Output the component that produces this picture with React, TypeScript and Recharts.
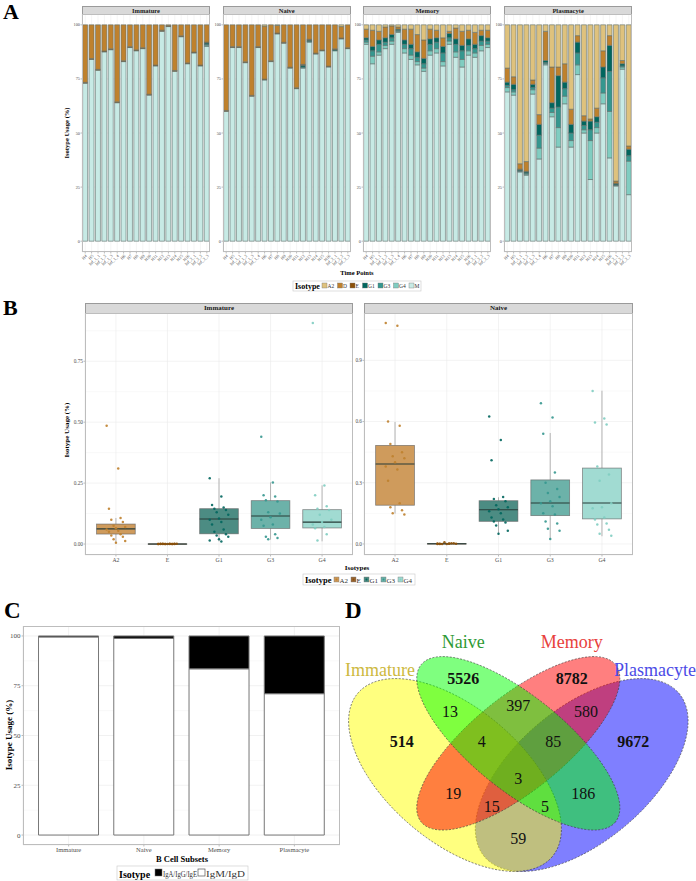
import React from "react"
import {
  BarChart,
  Bar,
  XAxis,
  YAxis,
  CartesianGrid,
  ScatterChart,
  Scatter,
} from "recharts"

const SERIF = "'Liberation Serif', 'DejaVu Serif', serif"

// ---------- Panel A: isotype usage per time point ----------
const timePoints = [
  "H4", "H5", "Inf_1_1", "Inf_1_2", "Inf_1_3", "Inf_1_4", "H6", "H7", "H8", "H9",
  "H10", "H11", "H12", "H13", "H14", "H15", "H16", "Inf_2_1", "Inf_2_2", "Inf_2_3",
]
const legendIsotypes = ["A2", "D", "E", "G1", "G3", "G4", "M"]
const stackOrder = ["M", "G4", "G3", "G1", "E", "D", "A2"] // bottom -> top

const zero20 = [0, 0, 0, 0, 0, 0, 0, 0, 0, 0, 0, 0, 0, 0, 0, 0, 0, 0, 0, 0]

const immM = [73, 84, 79, 87.5, 88.5, 64, 83, 89.5, 88, 89, 67.5, 81, 97, 99.2, 78.5, 94.5, 82, 87, 81, 90]
const immG4 = [0, 0, 0, 0, 0, 0, 0, 0, 0, 0, 0, 0, 0, 0, 0, 0, 0, 0, 0, 0.6]
const immG3 = [0, 0, 0, 0, 0, 0, 0, 0, 0, 0, 0, 0, 0, 0, 0, 0, 0, 0, 0, 0.4]
const immG1 = [0, 0, 0, 0, 0, 0, 0, 0, 0, 0, 0, 0, 0, 0, 0, 0, 0, 0, 0, 0.6]
const immE = [0.4, 0.4, 0.4, 0.4, 0.4, 0.4, 0.4, 0.4, 0.4, 0.4, 0.4, 0.4, 0.5, 0.4, 0.4, 0.4, 0.4, 0.4, 0.4, 0.4]
const immD = [26.6, 15.6, 20.6, 12.1, 11.1, 35.6, 16.6, 10.1, 11.6, 10.6, 32.1, 18.6, 2.5, 0.4, 21.1, 5.1, 17.6, 12.6, 18.6, 8.0]
const immA2 = zero20

const naiM = [60, 89.5, 89.5, 82.5, 67, 89.5, 74.5, 83, 95.8, 91.5, 80, 70.5, 80, 92, 86.5, 88, 80.5, 88, 93.5, 89]
const naiG4 = zero20
const naiG3 = [0, 0, 0, 0, 0, 0, 0, 0, 0, 0, 0, 0, 0.5, 0.4, 0, 0, 0, 0, 0, 0]
const naiG1 = [0, 0, 0, 0, 0, 0, 0, 0, 0, 0, 0, 0, 0.8, 0.5, 0, 0, 0, 0.5, 0, 0]
const naiE = [0.4, 0.4, 0.4, 0.4, 0.4, 0.4, 0.4, 0.4, 0.4, 0.4, 0.4, 0.4, 0.4, 0.4, 0.4, 0.4, 0.4, 0.4, 0.4, 0.4]
const naiD = [39.6, 10.1, 10.1, 17.1, 32.6, 10.1, 24.5, 16.6, 3.5, 8.1, 19.6, 29.1, 18.3, 6.7, 13.1, 11.6, 19.1, 11.1, 5.3, 10.6]
const naiA2 = [0, 0, 0, 0, 0, 0, 0.6, 0, 0.3, 0, 0, 0, 0, 0, 0, 0, 0, 0, 0.8, 0]

const memM = [91, 82, 86, 89, 91, 96.5, 87, 84, 81.5, 78.5, 86, 87, 81, 91, 85, 80.5, 86, 85, 88, 89.5]
const memG4 = [1, 3.5, 1.5, 1.5, 1.5, 0.5, 2, 2, 1.5, 1.5, 2, 2, 2, 1.5, 2.5, 3.5, 2, 2, 2.5, 1.5]
const memG3 = [1, 2.5, 3.5, 1.5, 1.5, 0.5, 2, 3, 2, 2, 3, 3, 4, 1.5, 3.5, 4, 2.5, 2, 2, 1.5]
const memG1 = [1, 2, 2, 2, 1.5, 0.5, 2, 2, 2.5, 2.5, 2.5, 2, 3, 2, 2.5, 2.5, 3, 2, 2.5, 1.5]
const memE = zero20
const memD = [4, 7.5, 4, 5, 4, 1, 5, 7, 8, 8.5, 4.5, 3.5, 4, 1, 5, 6.5, 4, 5.5, 2.5, 3.5]
const memA2 = [2, 2.5, 3, 1, 0.5, 1, 2, 2, 4.5, 7, 2, 2.5, 6, 3, 1.5, 3, 2.5, 3.5, 2.5, 2.5]

const plaM = [69, 67.5, 32, 30.5, 68, 38, 81.5, 57.5, 43.5, 63.5, 43.5, 77, 50, 28.5, 50, 63.5, 38.5, 25.5, 79.5, 21.5]
const plaG4 = [2, 1.5, 0.3, 0.5, 2, 5, 0.5, 2, 9, 3.5, 3, 4.5, 1.5, 18, 2.5, 5, 21.5, 0.3, 1, 15.5]
const plaG3 = [1, 1, 0.3, 0.5, 1, 6, 0.5, 2, 9.5, 3.5, 3.5, 5.5, 2, 5, 2.5, 7, 18.5, 0.2, 0.5, 2.5]
const plaG1 = [1.5, 2.5, 0.4, 0.5, 1.5, 5, 1, 2.5, 14.5, 3, 4, 5, 2, 4, 2.5, 5, 12, 0.5, 1, 3]
const plaE = [0, 0, 0.3, 0.3, 0, 0, 0, 0, 0, 0, 0, 0, 0, 0, 0, 0, 0, 0.3, 0, 0]
const plaD = [6.5, 3.5, 2.5, 4.5, 2, 4.5, 13.5, 16.5, 4, 8.5, 7, 3, 2.5, 1, 4, 7.5, 4.5, 1, 1.5, 1.5]
const plaA2 = [20, 24, 64.2, 63.2, 25.5, 41.5, 3, 19.5, 19.5, 18, 39, 5, 42, 43.5, 38.5, 12, 5, 72.2, 16.5, 56]

const isoColors: Record<string, string> = {
  A2: "#dfc27d",
  D: "#bf812d",
  E: "#8c510a",
  G1: "#01665e",
  G3: "#35978f",
  G4: "#80cdc1",
  M: "#c7eae5",
}

const facetsA = [
  { title: "Immature", s: { M: immM, G4: immG4, G3: immG3, G1: immG1, E: immE, D: immD, A2: immA2 } },
  { title: "Naive", s: { M: naiM, G4: naiG4, G3: naiG3, G1: naiG1, E: naiE, D: naiD, A2: naiA2 } },
  { title: "Memory", s: { M: memM, G4: memG4, G3: memG3, G1: memG1, E: memE, D: memD, A2: memA2 } },
  { title: "Plasmacyte", s: { M: plaM, G4: plaG4, G3: plaG3, G1: plaG1, E: plaE, D: plaD, A2: plaA2 } },
]

// ---------- Panel B: isotype usage box plots ----------
const boxIsotypes = ["A2", "E", "G1", "G3", "G4"]

const immLo = [0.004, 0, 0.011, 0.018, 0.011]
const immQ1 = [0.041, 0, 0.042, 0.064, 0.066]
const immMed = [0.062, 0, 0.103, 0.115, 0.09]
const immQ3 = [0.082, 0.001, 0.145, 0.178, 0.141]
const immHi = [0.107, 0.002, 0.27, 0.253, 0.241]
const immPtsA2 = [0.485, 0.31, 0.145, 0.107, 0.1, 0.09, 0.075, 0.07, 0.065, 0.06, 0.055, 0.05, 0.04, 0.035, 0.03, 0.02, 0.012, 0.005]
const immPtsE = [0, 0, 0.001, 0, 0.001, 0, 0, 0.001, 0, 0, 0.001, 0, 0, 0, 0.001, 0]
const immPtsG1 = [0.27, 0.195, 0.16, 0.15, 0.145, 0.14, 0.13, 0.12, 0.105, 0.1, 0.09, 0.08, 0.06, 0.05, 0.04, 0.035, 0.03, 0.02, 0.015, 0.01]
const immPtsG3 = [0.44, 0.253, 0.2, 0.195, 0.18, 0.175, 0.13, 0.125, 0.11, 0.1, 0.08, 0.075, 0.04, 0.03, 0.025, 0.02]
const immPtsG4 = [0.907, 0.24, 0.2, 0.155, 0.145, 0.14, 0.12, 0.1, 0.09, 0.08, 0.07, 0.065, 0.04, 0.015]

const naiLo = [0.149, 0, 0.046, 0.021, 0.038]
const naiQ1 = [0.19, 0, 0.111, 0.139, 0.123]
const naiMed = [0.392, 0.001, 0.168, 0.201, 0.201]
const naiQ3 = [0.483, 0.002, 0.212, 0.314, 0.372]
const naiHi = [0.598, 0.004, 0.229, 0.544, 0.751]
const naiPtsA2 = [1.083, 1.07, 0.6, 0.58, 0.49, 0.45, 0.43, 0.42, 0.4, 0.38, 0.365, 0.31, 0.2, 0.18, 0.165, 0.15, 0.145]
const naiPtsE = [0, 0.002, 0.001, 0.004, 0, 0.003, 0.008, 0.001, 0, 0.002, 0.001, 0]
const naiPtsG1 = [0.625, 0.51, 0.41, 0.23, 0.22, 0.21, 0.19, 0.18, 0.17, 0.16, 0.15, 0.13, 0.12, 0.11, 0.105, 0.09, 0.065, 0.05]
const naiPtsG3 = [0.69, 0.62, 0.54, 0.35, 0.3, 0.27, 0.25, 0.23, 0.21, 0.2, 0.185, 0.15, 0.145, 0.11, 0.1, 0.075, 0.065, 0.025]
const naiPtsG4 = [0.75, 0.615, 0.595, 0.585, 0.38, 0.34, 0.31, 0.2, 0.18, 0.175, 0.13, 0.12, 0.1, 0.095, 0.07, 0.05, 0.04]

const boxFill: Record<string, string> = { A2: "#cf9b5c", E: "#9a6633", G1: "#4c8c83", G3: "#6cb2a9", G4: "#a1dbd2" }
const pointFill: Record<string, string> = { A2: "#bf812d", E: "#8c510a", G1: "#01665e", G3: "#35978f", G4: "#80cdc1" }

// ---------- Panel C: switched vs unswitched ----------
const subsets = ["Immature", "Naive", "Memory", "Plasmacyte"]
const switchedPct = [0.5, 1.2, 16.5, 29]
const unswitchedPct = [99.5, 98.8, 83.5, 71]

// ---------- Panel D: clonotype overlap ----------
const vennSets = ["Immature", "Naive", "Memory", "Plasmacyte"]
const vennRegions = [
  "Naive", "Memory", "Imm&Naive", "Naive&Mem", "Mem&Plasma", "Immature", "Imm&Naive&Mem",
  "Naive&Mem&Plasma", "Plasmacyte", "All", "Imm&Mem", "Naive&Plasma", "Imm&Mem&Plasma",
  "Imm&Naive&Plasma", "Imm&Plasma",
]
const vennCounts = [5526, 8782, 13, 397, 580, 514, 4, 85, 9672, 3, 19, 186, 15, 5, 59]
const vennSingle = ["Naive", "Memory", "Immature", "Plasmacyte"]

// layout of the diagram (chart units = px inside the 356x291 panel)
const vennEllipseLayout: Record<string, { x: number; y: number; a: number; b: number; rot: number; color: string }> = {
  Plasmacyte: { x: 241.7, y: 185, a: 127, b: 67, rot: -40, color: "#0000ff" },
  Immature: { x: 115, y: 185, a: 127, b: 67, rot: 40, color: "#ffff00" },
  Memory: { x: 178.3, y: 153.3, a: 125, b: 47, rot: -39, color: "#ff0000" },
  Naive: { x: 178.3, y: 153.3, a: 125, b: 47, rot: 39, color: "#00ff00" },
}
const vennDrawOrder = ["Plasmacyte", "Immature", "Memory", "Naive"]
const vennSetLabelLayout: Record<string, { x: number; y: number; color: string }> = {
  Immature: { x: 40, y: 80, color: "#cdb940" },
  Naive: { x: 123.3, y: 51.7, color: "#2f9a35" },
  Memory: { x: 231.7, y: 51.7, color: "#e8413c" },
  Plasmacyte: { x: 315, y: 80, color: "#4b4be6" },
}
const vennCountLayout = [
  [123.3, 88.3], [231.7, 88.3], [110, 121.7], [178.3, 115], [246, 121.7], [61.7, 151.7], [141.7, 151.7],
  [213.3, 151.7], [293.3, 151.7], [178.3, 188.3], [113.3, 203.3], [243.3, 203.3], [151.7, 216.7],
  [205, 216.7], [178.3, 248.3],
]

// ---------- components ----------
const tickStyle = (size: number) => ({ fontSize: size, fill: "#4d4d4d", fontFamily: SERIF })

function Strip({ left, top, width, height, title, size }: any) {
  return (
    <div
      style={{
        position: "absolute",
        left,
        top,
        width,
        height,
        background: "#d9d9d9",
        border: "0.5px solid #9a9a9a",
        boxSizing: "border-box",
        fontFamily: SERIF,
        fontWeight: "bold",
        fontSize: size,
        lineHeight: `${height - 1}px`,
        textAlign: "center",
        color: "#1a1a1a",
      }}
    >
      {title}
    </div>
  )
}

function Frame({ left, top, width, height }: any) {
  return (
    <div
      style={{
        position: "absolute",
        left,
        top,
        width,
        height,
        border: "0.7px solid #bdbdbd",
        boxSizing: "border-box",
        pointerEvents: "none",
      }}
    />
  )
}

function UsageFacet({ title, s, plotLeft }: any) {
  const plotW = 128
  const plotH = 238
  const yW = 14
  const xH = 30
  const rows = timePoints.map((t, i) => {
    const r: Record<string, string | number> = { t }
    stackOrder.forEach((k) => (r[k] = s[k][i]))
    return r
  })
  return (
    <>
      <Strip left={plotLeft} top={6} width={plotW} height={8.5} title={title} size={6.5} />
      <div style={{ position: "absolute", left: plotLeft - yW, top: 14 }}>
        <BarChart
          width={plotW + yW}
          height={plotH + xH}
          data={rows}
          margin={{ top: 0, right: 0, bottom: 0, left: 0 }}
          barCategoryGap="10%"
        >
          <CartesianGrid stroke="#ebebeb" strokeWidth={0.5} />
          <XAxis
            dataKey="t"
            interval={0}
            height={xH}
            angle={-45}
            textAnchor="end"
            tick={tickStyle(4.3)}
            tickSize={1.5}
            tickMargin={0.5}
            tickLine={{ stroke: "#7f7f7f", strokeWidth: 0.5 }}
            axisLine={false}
          />
          <YAxis
            width={yW}
            domain={[-5, 105]}
            ticks={[0, 25, 50, 75, 100]}
            allowDataOverflow
            tick={tickStyle(4.3)}
            tickSize={1.5}
            tickMargin={0.5}
            tickLine={{ stroke: "#7f7f7f", strokeWidth: 0.5 }}
            axisLine={false}
          />
          {stackOrder.map((k) => (
            <Bar
              key={k}
              dataKey={k}
              stackId="s"
              fill={isoColors[k]}
              stroke="#61706d"
              strokeWidth={0.6}
              isAnimationActive={false}
            />
          ))}
        </BarChart>
      </div>
      <Frame left={plotLeft} top={14} width={plotW} height={plotH} />
    </>
  )
}

const jitter = (i: number) => (((i * 5) % 9) - 4) * 0.045

function BoxFacet({ title, plotLeft, plotW, stats, pts, domain, ticks, minor, digits }: any) {
  const plotTop = 313
  const plotH = 242
  const yW = 18
  const xH = 14
  const pxY = plotH / (domain[1] - domain[0])
  const pxX = plotW / 5.2
  const boxes = boxIsotypes.map((iso, i) => ({
    iso,
    x: i + 1,
    y: stats.med[i],
    lo: stats.lo[i],
    q1: stats.q1[i],
    q3: stats.q3[i],
    hi: stats.hi[i],
  }))
  const boxShape = (props: any) => {
    const { cx, cy, payload } = props
    const py = (v: number) => cy - (v - payload.y) * pxY
    const w = 0.75 * pxX
    const top = py(payload.q3)
    const bot = py(payload.q1)
    return (
      <g>
        <line x1={cx} x2={cx} y1={py(payload.hi)} y2={top} stroke="#a3a3a3" strokeWidth={0.8} />
        <line x1={cx} x2={cx} y1={bot} y2={py(payload.lo)} stroke="#a3a3a3" strokeWidth={0.8} />
        <rect
          x={cx - w / 2}
          y={top}
          width={w}
          height={Math.max(0.6, bot - top)}
          fill={boxFill[payload.iso]}
          stroke="#5d5d5d"
          strokeOpacity={0.7}
          strokeWidth={0.8}
        />
        <line x1={cx - w / 2} x2={cx + w / 2} y1={cy} y2={cy} stroke="#263b37" strokeWidth={1.1} />
      </g>
    )
  }
  return (
    <>
      <Strip left={plotLeft} top={303} width={plotW} height={10.5} title={title} size={7} />
      <div style={{ position: "absolute", left: plotLeft - yW, top: plotTop }}>
        <ScatterChart width={plotW + yW} height={plotH + xH} margin={{ top: 0, right: 0, bottom: 0, left: 0 }}>
          <CartesianGrid stroke="#f3f3f3" strokeWidth={0.5} vertical={false} horizontalValues={minor} />
          <CartesianGrid stroke="#ebebeb" strokeWidth={0.6} />
          <XAxis
            type="number"
            dataKey="x"
            domain={[0.4, 5.6]}
            ticks={[1, 2, 3, 4, 5]}
            allowDataOverflow
            tickFormatter={(v: number) => boxIsotypes[v - 1]}
            height={xH}
            tick={tickStyle(5.8)}
            tickSize={1.5}
            tickMargin={1}
            tickLine={{ stroke: "#7f7f7f", strokeWidth: 0.5 }}
            axisLine={false}
          />
          <YAxis
            type="number"
            dataKey="y"
            width={yW}
            domain={domain}
            ticks={ticks}
            allowDataOverflow
            tickFormatter={(v: number) => v.toFixed(digits)}
            tick={tickStyle(5.3)}
            tickSize={1.5}
            tickMargin={0.5}
            tickLine={{ stroke: "#7f7f7f", strokeWidth: 0.5 }}
            axisLine={false}
          />
          <Scatter data={boxes} shape={boxShape} isAnimationActive={false} />
          {boxIsotypes.map((iso, k) => (
            <Scatter
              key={iso}
              data={pts[iso].map((v: number, i: number) => ({ x: k + 1 + jitter(i), y: v }))}
              fill={pointFill[iso]}
              shape={(p: any) => <circle cx={p.cx} cy={p.cy} r={1.25} fill={pointFill[iso]} fillOpacity={0.9} />}
              isAnimationActive={false}
            />
          ))}
        </ScatterChart>
      </div>
      <Frame left={plotLeft} top={plotTop} width={plotW} height={plotH} />
    </>
  )
}

function SwitchPanel() {
  const rows = subsets.map((s, i) => ({ s, sw: switchedPct[i], un: unswitchedPct[i] }))
  const plotLeft = 23
  const plotTop = 626
  const plotW = 317
  const plotH = 219
  const yW = 20
  return (
    <>
      <div style={{ position: "absolute", left: plotLeft - yW, top: plotTop }}>
        <BarChart
          width={plotW + yW}
          height={plotH + 12}
          data={rows}
          margin={{ top: 0, right: 0, bottom: 0, left: 0 }}
          barCategoryGap="10%"
        >
          <CartesianGrid stroke="#f3f3f3" strokeWidth={0.5} vertical={false} horizontalValues={[12.5, 37.5, 62.5, 87.5]} />
          <CartesianGrid stroke="#ebebeb" strokeWidth={0.7} />
          <XAxis
            dataKey="s"
            interval={0}
            height={12}
            padding={{ left: 8, right: 8 }}
            tick={tickStyle(6.5)}
            tickSize={1.5}
            tickMargin={0.5}
            tickLine={{ stroke: "#7f7f7f", strokeWidth: 0.5 }}
            axisLine={false}
          />
          <YAxis
            width={yW}
            domain={[-5, 105]}
            ticks={[0, 25, 50, 75, 100]}
            allowDataOverflow
            tick={tickStyle(7)}
            tickSize={1.5}
            tickMargin={1}
            tickLine={{ stroke: "#7f7f7f", strokeWidth: 0.5 }}
            axisLine={false}
          />
          <Bar dataKey="un" stackId="c" fill="#ffffff" stroke="#777777" strokeWidth={1} isAnimationActive={false} />
          <Bar dataKey="sw" stackId="c" fill="#000000" stroke="#777777" strokeWidth={1} isAnimationActive={false} />
        </BarChart>
      </div>
      <Frame left={plotLeft} top={plotTop} width={plotW} height={plotH} />
    </>
  )
}

function VennPanel() {
  const ellipses = vennDrawOrder.map((k) => ({ name: k, ...vennEllipseLayout[k] }))
  const counts = vennCounts.map((c, i) => ({
    x: vennCountLayout[i][0],
    y: vennCountLayout[i][1],
    c,
    region: vennRegions[i],
    bold: vennSingle.includes(vennRegions[i]),
  }))
  const names = vennSets.map((n) => ({ n, ...vennSetLabelLayout[n] }))
  return (
    <div style={{ position: "absolute", left: 340, top: 590 }}>
      <ScatterChart width={356} height={291} margin={{ top: 0, right: 0, bottom: 0, left: 0 }}>
        <XAxis type="number" dataKey="x" domain={[0, 356]} hide allowDataOverflow />
        <YAxis type="number" dataKey="y" domain={[0, 291]} reversed hide allowDataOverflow />
        <Scatter
          data={ellipses}
          isAnimationActive={false}
          shape={(p: any) => (
            <ellipse
              cx={p.cx}
              cy={p.cy}
              rx={p.payload.a}
              ry={p.payload.b}
              transform={`rotate(${p.payload.rot} ${p.cx} ${p.cy})`}
              fill={p.payload.color}
              fillOpacity={0.5}
              stroke="#3a3a3a"
              strokeWidth={0.6}
              strokeDasharray="2 1.5"
            />
          )}
        />
        <Scatter
          data={counts}
          isAnimationActive={false}
          shape={(p: any) => (
            <text
              x={p.cx}
              y={p.cy}
              textAnchor="middle"
              dominantBaseline="central"
              fontFamily={SERIF}
              fontSize={16}
              fontWeight={p.payload.bold ? "bold" : "normal"}
              fill="#111"
            >
              {p.payload.c}
            </text>
          )}
        />
        <Scatter
          data={names}
          isAnimationActive={false}
          shape={(p: any) => (
            <text
              x={p.cx}
              y={p.cy}
              textAnchor="middle"
              dominantBaseline="central"
              fontFamily={SERIF}
              fontSize={18}
              fill={p.payload.color}
            >
              {p.payload.n}
            </text>
          )}
        />
      </ScatterChart>
    </div>
  )
}

function Overlay() {
  const legA: JSX.Element[] = []
  let x = 322
  legendIsotypes.forEach((k) => {
    legA.push(<rect key={`r${k}`} x={x} y={283} width={5} height={5} fill={isoColors[k]} stroke="#777" strokeWidth={0.4} />)
    legA.push(
      <text key={`t${k}`} x={x + 5.5} y={287.8} fontSize={5.5} fill="#333">
        {k}
      </text>
    )
    x += 6.5 + (k.length === 1 ? 6 : 9)
  })
  const legB: JSX.Element[] = []
  let xb = 334
  boxIsotypes.forEach((k) => {
    legB.push(<rect key={`r${k}`} x={xb} y={577} width={5} height={5} fill={boxFill[k]} stroke="#777" strokeWidth={0.4} />)
    legB.push(<circle key={`c${k}`} cx={xb + 2.5} cy={579.5} r={1} fill={pointFill[k]} />)
    legB.push(
      <text key={`t${k}`} x={xb + 5.5} y={582.5} fontSize={7} fill="#333">
        {k}
      </text>
    )
    xb += 6 + (k.length === 1 ? 7 : 11)
  })
  return (
    <svg
      width={696}
      height={881}
      style={{ position: "absolute", left: 0, top: 0, pointerEvents: "none" }}
      fontFamily={SERIF}
    >
      <text x={3} y={19} fontSize={22} fontWeight="bold">A</text>
      <text x={3} y={315} fontSize={22} fontWeight="bold">B</text>
      <text x={4} y={618} fontSize={23} fontWeight="bold">C</text>
      <text x={345} y={618} fontSize={23} fontWeight="bold">D</text>

      <text transform="translate(69,133) rotate(-90)" textAnchor="middle" fontSize={6.5} fontWeight="bold">
        Isotype Usage (%)
      </text>
      <text x={357} y={275} textAnchor="middle" fontSize={6.5} fontWeight="bold">Time Points</text>
      <rect x={293} y={281} width={128} height={10} fill="#fff" stroke="#c8c8c8" strokeWidth={0.6} />
      <text x={295} y={289.3} fontSize={8} fontWeight="bold">Isotype</text>
      {legA}

      <text transform="translate(69,430) rotate(-90)" textAnchor="middle" fontSize={7} fontWeight="bold">
        Isotype Usage (%)
      </text>
      <text x={357} y={570} textAnchor="middle" fontSize={7} fontWeight="bold">Isotypes</text>
      <rect x={303} y={574} width={112} height={11} fill="#fff" stroke="#c8c8c8" strokeWidth={0.6} />
      <text x={305} y={583.2} fontSize={8.5} fontWeight="bold">Isotype</text>
      {legB}

      <text transform="translate(12,735) rotate(-90)" textAnchor="middle" fontSize={9} fontWeight="bold">
        Isotype Usage (%)
      </text>
      <text x={182} y={862} textAnchor="middle" fontSize={8.5} fontWeight="bold">B Cell Subsets</text>
      <rect x={117} y={866} width={131} height={14} fill="#fff" stroke="#c8c8c8" strokeWidth={0.6} />
      <text x={119} y={877.5} fontSize={10} fontWeight="bold">Isotype</text>
      <rect x={155} y={869} width={7} height={7} fill="#000" stroke="#777" strokeWidth={0.5} />
      <text x={163} y={876.5} fontSize={7.5} fill="#333" textLength={34} lengthAdjust="spacingAndGlyphs">IgA/IgG/IgE</text>
      <rect x={198} y={869} width={7} height={7} fill="#fff" stroke="#555" strokeWidth={0.7} />
      <text x={206} y={876.5} fontSize={7.5} fill="#333" textLength={39} lengthAdjust="spacingAndGlyphs">IgM/IgD</text>
    </svg>
  )
}

export default function App() {
  return (
    <div style={{ position: "absolute", left: 0, top: 0, width: 696, height: 881, background: "#fff", overflow: "hidden" }}>
      {facetsA.map((f, i) => (
        <UsageFacet key={f.title} title={f.title} s={f.s} plotLeft={82 + i * 140.7} />
      ))}
      <BoxFacet
        title="Immature"
        plotLeft={85}
        plotW={268}
        stats={{ lo: immLo, q1: immQ1, med: immMed, q3: immQ3, hi: immHi }}
        pts={{ A2: immPtsA2, E: immPtsE, G1: immPtsG1, G3: immPtsG3, G4: immPtsG4 }}
        domain={[-0.045, 0.948]}
        ticks={[0, 0.25, 0.5, 0.75]}
        minor={[0.125, 0.375, 0.625, 0.875]}
        digits={2}
      />
      <BoxFacet
        title="Naive"
        plotLeft={364}
        plotW={269}
        stats={{ lo: naiLo, q1: naiQ1, med: naiMed, q3: naiQ3, hi: naiHi }}
        pts={{ A2: naiPtsA2, E: naiPtsE, G1: naiPtsG1, G3: naiPtsG3, G4: naiPtsG4 }}
        domain={[-0.054, 1.132]}
        ticks={[0, 0.3, 0.6, 0.9]}
        minor={[0.15, 0.45, 0.75, 1.05]}
        digits={1}
      />
      <SwitchPanel />
      <VennPanel />
      <Overlay />
    </div>
  )
}
